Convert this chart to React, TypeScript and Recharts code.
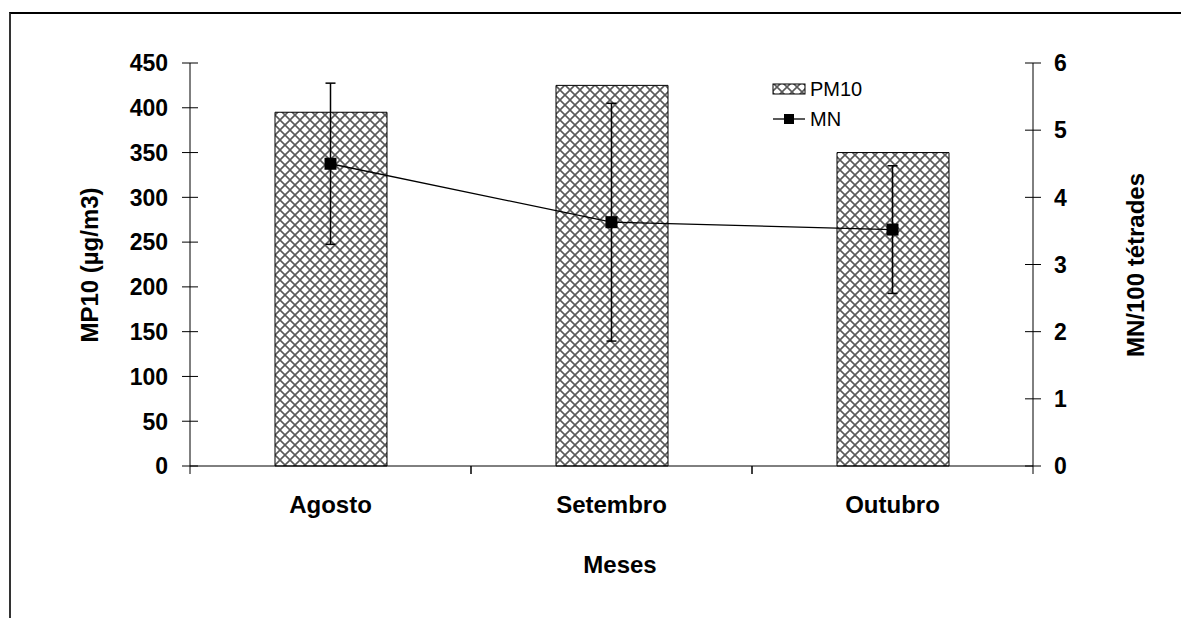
import { Bar, ComposedChart, ErrorBar, Legend, Line, XAxis, YAxis } from 'recharts';

const months = ['Agosto', 'Setembro', 'Outubro'];
const pm10 = [395, 425, 350];
const mn = [4.5, 3.63, 3.52];
const mnErr = [1.2, 1.77, 0.95];

const pmTicks = [0, 50, 100, 150, 200, 250, 300, 350, 400, 450];
const mnTicks = [0, 1, 2, 3, 4, 5, 6];

const data = months.map((month, i) => ({ month, pm10: pm10[i], mn: mn[i], mnErr: mnErr[i] }));

const FONT = '"Liberation Sans", Arial, sans-serif';
const TICK = 8;

function LeftTick(props: any) {
  const { x, y, payload } = props;
  const axisX = x + TICK + 14;
  return (
    <g>
      <line x1={axisX - TICK} x2={axisX + TICK} y1={y} y2={y} stroke="#000" />
      <text x={x} y={y} dy="0.36em" textAnchor="end" fontFamily={FONT} fontWeight="bold" fontSize={23} fill="#000">
        {payload.value}
      </text>
    </g>
  );
}

function RightTick(props: any) {
  const { x, y, payload } = props;
  const axisX = x - TICK - 13;
  return (
    <g>
      <line x1={axisX - TICK} x2={axisX + TICK} y1={y} y2={y} stroke="#000" />
      <text x={x} y={y} dy="0.36em" textAnchor="start" fontFamily={FONT} fontWeight="bold" fontSize={23} fill="#000">
        {payload.value}
      </text>
    </g>
  );
}

function MonthTick(props: any) {
  const { x, y, payload } = props;
  const half = payload.offset ?? 0;
  const axisY = y - TICK - 24;
  return (
    <g>
      <line x1={x - half} x2={x - half} y1={axisY} y2={axisY + TICK} stroke="#000" />
      <line x1={x + half} x2={x + half} y1={axisY} y2={axisY + TICK} stroke="#000" />
      <text x={x} y={axisY + 47} textAnchor="middle" fontFamily={FONT} fontWeight="bold" fontSize={24} fill="#000">
        {payload.value}
      </text>
    </g>
  );
}

function SquareDot(props: any) {
  const { cx, cy } = props;
  if (cx == null || cy == null) return null;
  return <rect x={cx - 6} y={cy - 6} width={12} height={12} fill="#000" />;
}

function LegendBox() {
  return (
    <div style={{ fontFamily: FONT, fontSize: 20, color: '#000', lineHeight: '30px' }}>
      <div style={{ display: 'flex', alignItems: 'center' }}>
        <svg width={36} height={14}>
          <rect x={1} y={2} width={32} height={10} fill="url(#hatch)" stroke="#000" />
        </svg>
        <span style={{ marginLeft: 2 }}>PM10</span>
      </div>
      <div style={{ display: 'flex', alignItems: 'center' }}>
        <svg width={36} height={14}>
          <line x1={1} x2={33} y1={7} y2={7} stroke="#000" strokeWidth={1.3} />
          <rect x={12} y={2} width={10} height={10} fill="#000" />
        </svg>
        <span style={{ marginLeft: 2 }}>MN</span>
      </div>
    </div>
  );
}

export default function App() {
  return (
    <div
      style={{
        position: 'absolute',
        left: 0,
        top: 0,
        width: 1181,
        height: 618,
        overflow: 'hidden',
        background: '#fff',
        fontFamily: FONT,
      }}
    >
      <div
        style={{
          position: 'absolute',
          left: 9,
          top: 12,
          width: 1200,
          height: 700,
          borderLeft: '2px solid #333',
          borderTop: '2px solid #000',
        }}
      />
      <div style={{ position: 'absolute', left: 0, top: 0 }}>
        <ComposedChart width={1181} height={618} data={data} margin={{ top: 63, right: 0, bottom: 92, left: 0 }} barCategoryGap="30%">
          <defs>
            <pattern id="hatch" width={10} height={10} patternUnits="userSpaceOnUse">
              <rect width={10} height={10} fill="#fff" />
              <path d="M-1,-1 L11,11 M11,-1 L-1,11" stroke="#5a5a5a" strokeWidth={1.6} />
            </pattern>
          </defs>
          <XAxis
            dataKey="month"
            height={60}
            axisLine={{ stroke: '#000' }}
            tickLine={false}
            tickSize={TICK}
            tickMargin={24}
            tick={<MonthTick />}
            interval={0}
          />
          <YAxis
            yAxisId="left"
            width={190}
            domain={[0, 450]}
            ticks={pmTicks}
            axisLine={{ stroke: '#000' }}
            tickLine={false}
            tickSize={TICK}
            tickMargin={14}
            tick={<LeftTick />}
            interval={0}
          />
          <YAxis
            yAxisId="right"
            orientation="right"
            width={148}
            domain={[0, 6]}
            ticks={mnTicks}
            axisLine={{ stroke: '#000' }}
            tickLine={false}
            tickSize={TICK}
            tickMargin={13}
            tick={<RightTick />}
            interval={0}
          />
          <Legend
            layout="vertical"
            align="center"
            verticalAlign="middle"
            content={() => <LegendBox />}
            wrapperStyle={{ left: 772, top: 74, width: 140 }}
          />
          <Bar
            yAxisId="left"
            dataKey="pm10"
            name="PM10"
            fill="url(#hatch)"
            stroke="#000"
            strokeWidth={1}
            barSize={112}
            isAnimationActive={false}
          />
          <Line
            yAxisId="right"
            dataKey="mn"
            name="MN"
            stroke="#000"
            strokeWidth={1.3}
            dot={<SquareDot />}
            activeDot={false}
            isAnimationActive={false}
          >
            <ErrorBar dataKey="mnErr" direction="y" width={5} stroke="#000" strokeWidth={1.5} isAnimationActive={false} />
          </Line>
        </ComposedChart>
      </div>
      <div
        style={{
          position: 'absolute',
          left: 90,
          top: 265,
          transform: 'translate(-50%, -50%) rotate(-90deg)',
          whiteSpace: 'nowrap',
          fontWeight: 'bold',
          fontSize: 24,
        }}
      >
        MP10 (µg/m3)
      </div>
      <div
        style={{
          position: 'absolute',
          left: 1136,
          top: 265,
          transform: 'translate(-50%, -50%) rotate(-90deg)',
          whiteSpace: 'nowrap',
          fontWeight: 'bold',
          fontSize: 24,
        }}
      >
        MN/100 tétrades
      </div>
      <div
        style={{
          position: 'absolute',
          left: 620,
          top: 565,
          transform: 'translate(-50%, -50%)',
          whiteSpace: 'nowrap',
          fontWeight: 'bold',
          fontSize: 24,
        }}
      >
        Meses
      </div>
    </div>
  );
}
